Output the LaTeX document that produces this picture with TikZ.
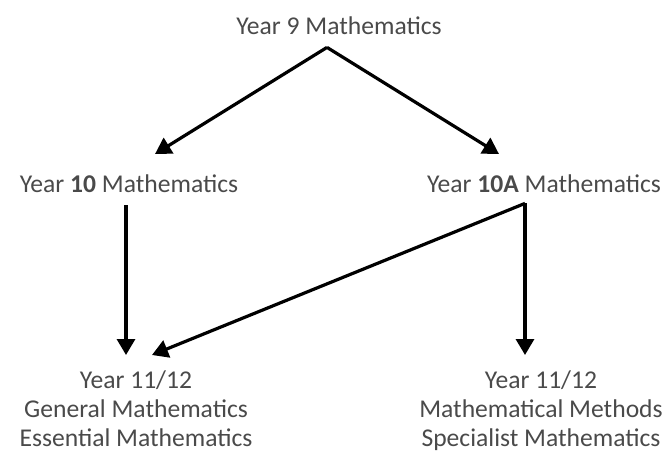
\documentclass[tikz,border=0pt]{standalone}
\usepackage{fontspec}
\setmainfont{Carlito}
\usepackage{xcolor}
\usetikzlibrary{arrows.meta,positioning,calc}
\tikzset{
  patharrow/.style={-{Triangle[length=16pt,width=18pt]}, line width=3.2pt, draw=black},
  yearlabel/.style={font=\fontsize{25.6}{28.8}\selectfont, text=TextGrey, align=center, inner sep=0pt}
}
\definecolor{TextGrey}{HTML}{4A4A4A}

\begin{document}
\begin{tikzpicture}[x=1pt,y=-1pt]
\useasboundingbox (0,0) rectangle (667,452);
\node[yearlabel, anchor=base] at (339,35) (nine) {Year 9 Mathematics};
\node[yearlabel, anchor=base] at (129,192) (ten) {Year \textbf{10} Mathematics};
\node[yearlabel, anchor=base] at (544,192) (tenA) {Year \textbf{10A} Mathematics};
\node[yearlabel, anchor=north] at (136,371) (general) {Year 11/12\\General Mathematics\\Essential Mathematics};
\node[yearlabel, anchor=north] at (541,371) (methods) {Year 11/12\\Mathematical Methods\\Specialist Mathematics};

% Year 9 splits into the two Year 10 courses
\draw[patharrow] ([shift={(-12,12)}]nine.south) -- ([shift={(26,-20)}]ten.north);
\draw[patharrow] ([shift={(-12,12)}]nine.south) -- ([shift={(-45,-20)}]tenA.north);
% on to the senior courses
\draw[patharrow] ([shift={(-3,13)}]ten.south) -- ([shift={(-10,-16)}]general.north);
\draw[patharrow] ([shift={(-19,11)}]tenA.south) -- ([shift={(16,-16)}]general.north);
\draw[patharrow] ([shift={(-19,11)}]tenA.south) -- ([shift={(-16,-16)}]methods.north);
\end{tikzpicture}
\end{document}
